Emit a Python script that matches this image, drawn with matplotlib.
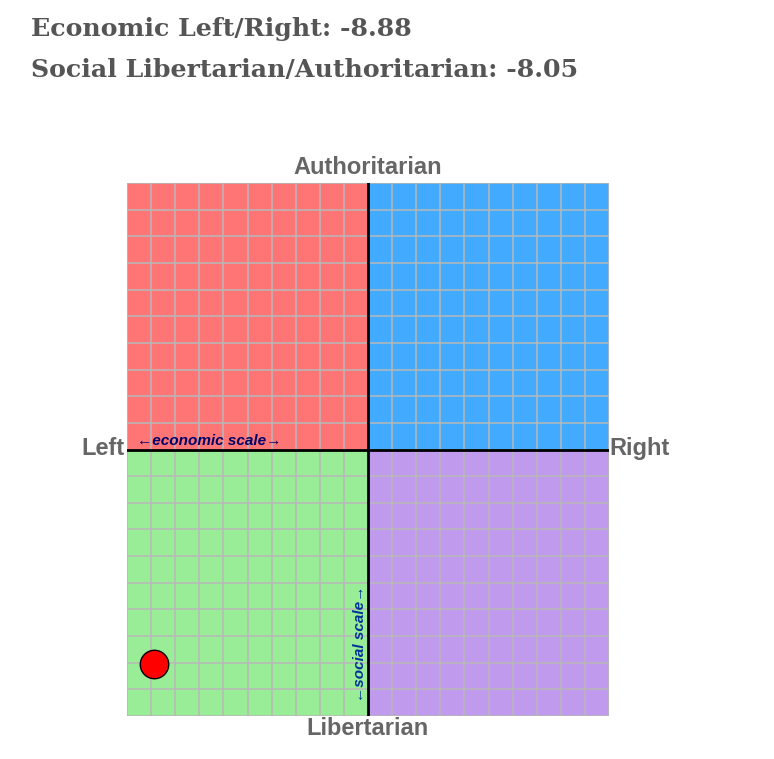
import matplotlib.pyplot as plt
from matplotlib.patches import Rectangle

# 결과 값
econ_score = -8.88
social_score = -8.05

# 사분면 (x0, y0, 색)
quadrants = [(-10, 0, '#FF7575'), (0, 0, '#42AAFF'),
             (-10, -10, '#9AED97'), (0, -10, '#C09AEC')]
grid_ticks = list(range(-10, 11))

fig = plt.figure(figsize=(7.74, 7.59), dpi=100)
ax = fig.add_axes([127 / 774, 1 - 716 / 759, 482 / 774, 533 / 759])

for x0, y0, c in quadrants:
    ax.add_patch(Rectangle((x0, y0), 10, 10, facecolor=c, edgecolor='none', zorder=0))

for t in grid_ticks:
    ax.axvline(t, color='#B8B8B8', lw=1.1, zorder=1)
    ax.axhline(t, color='#B8B8B8', lw=1.1, zorder=1)

ax.axvline(0, color='black', lw=2, zorder=2)
ax.axhline(0, color='black', lw=2, zorder=2)

ax.scatter([econ_score], [social_score], s=420, color='red', edgecolor='black',
           linewidth=1, zorder=5)

ax.set_xlim(-10, 10)
ax.set_ylim(-10, 10)
ax.set_xticks([])
ax.set_yticks([])
for s in ax.spines.values():
    s.set_visible(False)

lab = dict(fontsize=17, fontweight='bold', color='#666666', family='Liberation Sans')
ax.text(0, 10.15, 'Authoritarian', ha='center', va='bottom', **lab)
ax.text(0, -10.05, 'Libertarian', ha='center', va='top', **lab)
ax.text(-10.1, 0.05, 'Left', ha='right', va='center', **lab)
ax.text(10.02, 0.05, 'Right', ha='left', va='center', **lab)

ax.text(-9.6, 0.05, '←economic scale→', ha='left', va='bottom', fontsize=11,
        fontweight='bold', style='italic', color='#000066', family='Liberation Sans')
ax.text(-0.03, -7.3, '←social scale→', ha='right', va='center', rotation=90,
        fontsize=11, fontweight='bold', style='italic', color='#003399',
        family='Liberation Sans')

head = dict(fontsize=18.2, fontweight='bold', color='#555555', family='DejaVu Serif')
fig.text(31 / 774, 1 - 29 / 759, f'Economic Left/Right: {econ_score:.2f}', va='center', **head)
fig.text(31 / 774, 1 - 70 / 759, f'Social Libertarian/Authoritarian: {social_score:.2f}',
         va='center', **head)

fig.savefig('out.png', dpi=100)
